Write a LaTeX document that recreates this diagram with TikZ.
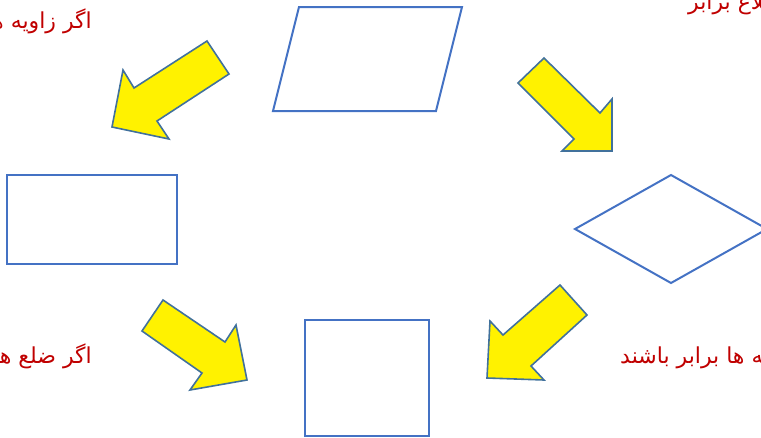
\documentclass[tikz,border=0pt]{standalone}
\usepackage{fontspec}
\newfontfamily\arabicfont[Script=Arabic]{DejaVu Sans}
\TeXXeTstate=1
\definecolor{shapeblue}{HTML}{4472C4}
\definecolor{arrowblue}{HTML}{41719C}
\definecolor{labelred}{HTML}{C00000}

\begin{document}
\begin{tikzpicture}[x=1pt, y=-1pt,
      shp/.style={draw=shapeblue, line width=2pt, line join=miter},
      blk/.style={draw=arrowblue, fill=yellow, line width=1.6pt, line join=miter},
      etq/.style={font=\arabicfont\fontsize{22}{26}\selectfont, text=labelred, inner sep=0pt}
    ]
    \useasboundingbox (0,0) rectangle (761,437);
    % shapes
    \draw[shp] (299,7) -- (462,7) -- (436,111) -- (273,111) -- cycle;
    \draw[shp] (7,175) rectangle (177,264);
    \draw[shp] (671,175) -- (767,229) -- (671,283) -- (575,229) -- cycle;
    \draw[shp] (305,320) rectangle (429,436);
    % block arrows
    \draw[blk] (207,41) -- (229,74) -- (157,121) -- (169,139) -- (112,127) -- (123,70) -- (134,88) -- cycle;
    \draw[blk] (544,58) -- (518,83) -- (574,139) -- (562,151) -- (612,151) -- (612,99) -- (600,113) -- cycle;
    \draw[blk] (163,300) -- (142,331) -- (202,373) -- (190,390) -- (247,380) -- (236,325) -- (225,342) -- cycle;
    \draw[blk] (560,285) -- (587,315) -- (531,366) -- (544,380) -- (487,378) -- (490,321) -- (503,335) -- cycle;
    % labels
    \node[etq, anchor=base east] (zav) at (92,28) {\beginR اگر زاویه ها\endR};
    \node[etq, anchor=base west] (zel) at (688,9) {\beginR اضلاع برابر\endR};
    \node[etq, anchor=base east] (zel2) at (92,363) {\beginR اگر ضلع ها\endR};
    \node[etq, anchor=base west] (zav2) at (620,363) {\beginR زاویه ها برابر باشند\endR};
  \end{tikzpicture}
\end{document}
